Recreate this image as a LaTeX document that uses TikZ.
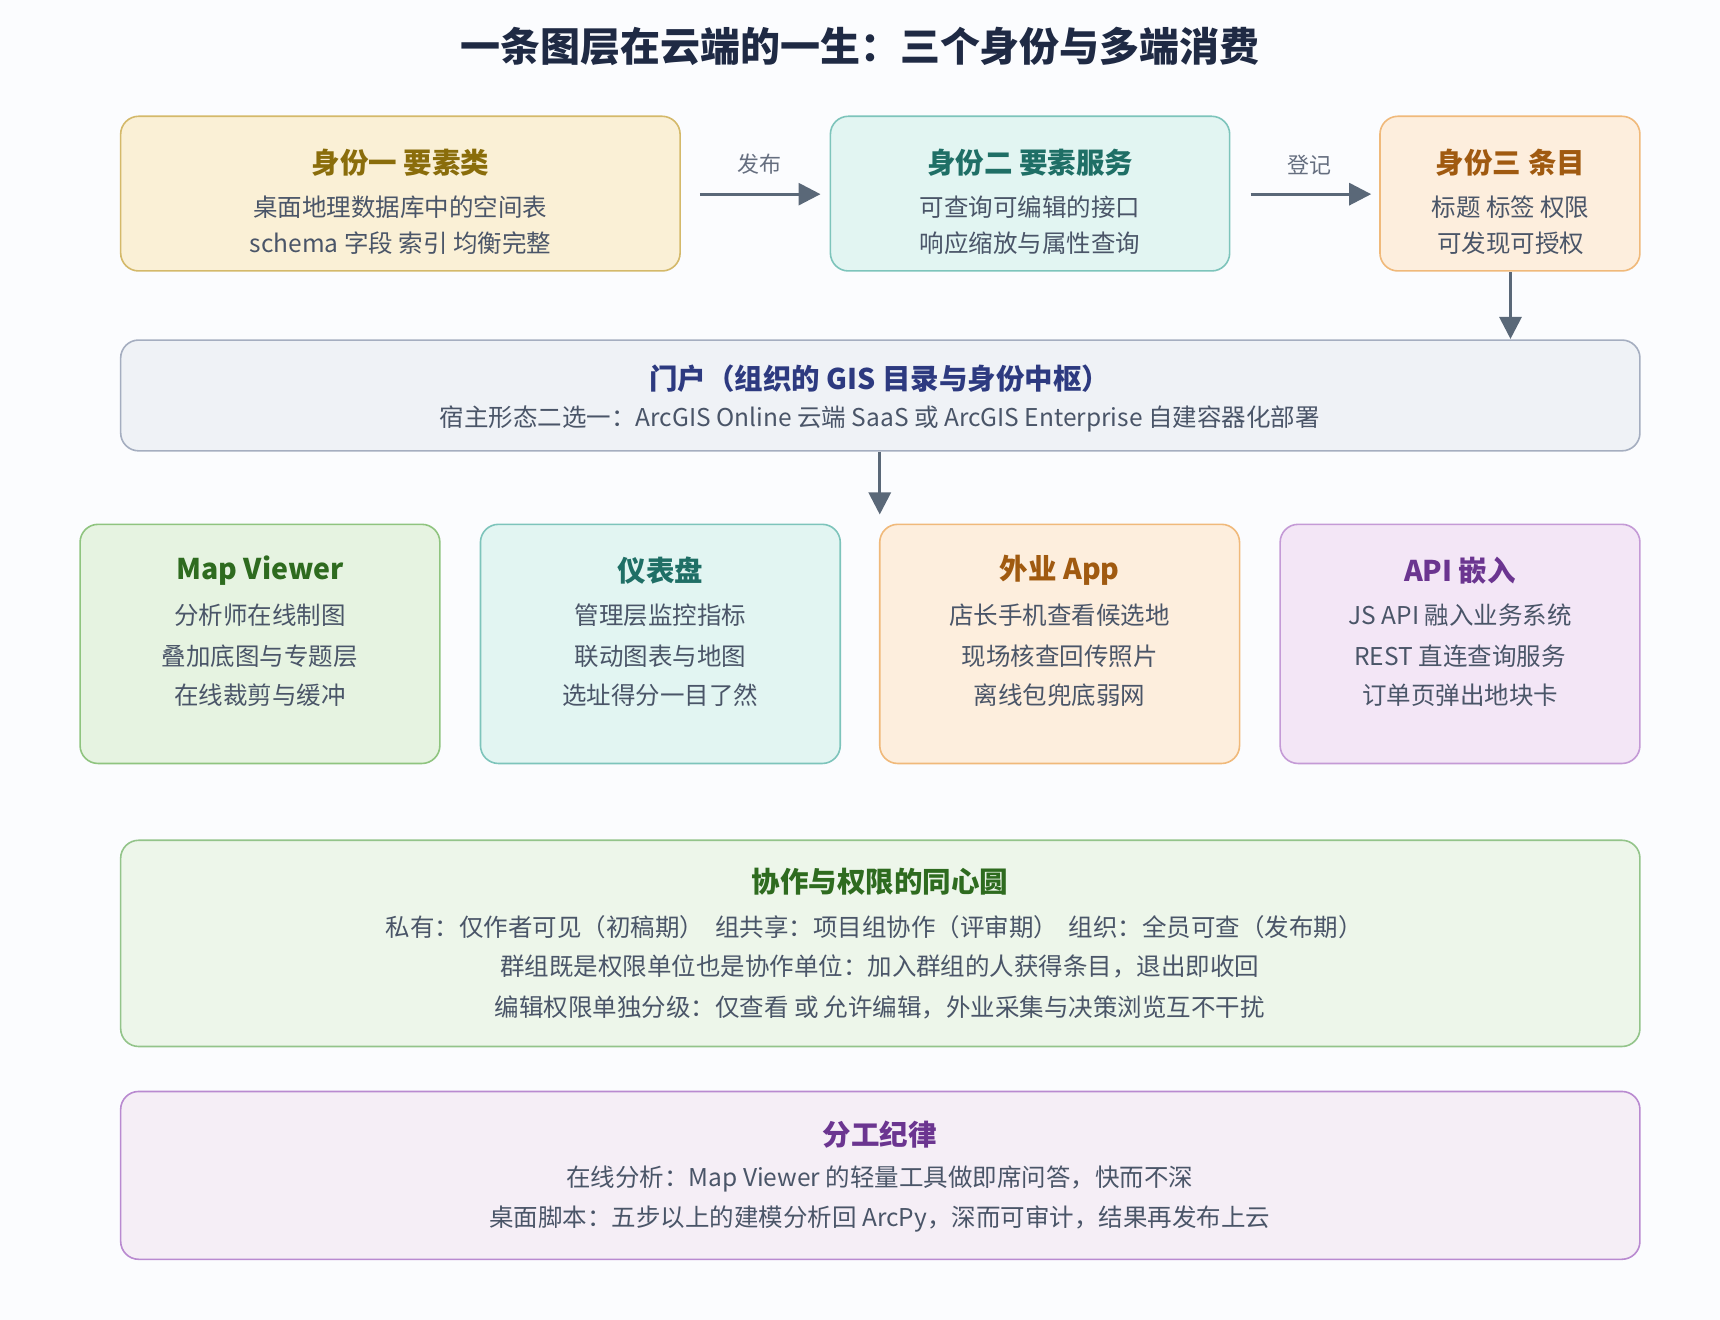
\documentclass[tikz,border=0pt]{standalone}
\usepackage{fontspec}
\setmainfont{Noto Sans CJK SC}
\usetikzlibrary{arrows.meta}
\definecolor{txt}{HTML}{4A5568}
\definecolor{arr}{HTML}{5A6878}
\definecolor{yf}{HTML}{FAF0D6}\definecolor{yb}{HTML}{D4B96A}\definecolor{yt}{HTML}{8A6D0B}
\definecolor{tf}{HTML}{E2F5F2}\definecolor{tb}{HTML}{7DC4BB}\definecolor{tt}{HTML}{1F6F66}
\definecolor{of}{HTML}{FDEEDD}\definecolor{ob}{HTML}{F0B97A}\definecolor{ot}{HTML}{A05A10}
\definecolor{gf}{HTML}{E6F3E1}\definecolor{gb}{HTML}{8FC47F}\definecolor{gt}{HTML}{2E6B1F}
\definecolor{pf}{HTML}{F3E6F6}\definecolor{pb}{HTML}{C49AD6}\definecolor{pt}{HTML}{6B3590}
\definecolor{sf}{HTML}{EFF2F6}\definecolor{sb}{HTML}{A5AEC0}\definecolor{st}{HTML}{2D3A80}
\definecolor{cf}{HTML}{EDF6EA}\definecolor{cb}{HTML}{93C48A}
\definecolor{lf}{HTML}{F5EEF6}\definecolor{lb}{HTML}{B98AD0}
\definecolor{bg}{HTML}{FBFCFE}
\definecolor{mt}{HTML}{1F2A44}
\begin{document}
\begin{tikzpicture}[x=1.097pt,y=-1.097pt,
  box/.style={draw,line width=1.6pt,rounded corners=18pt},
  ttl/.style={font=\fontsize{28.5}{32}\selectfont\bfseries},
  body/.style={font=\fontsize{24.5}{28}\selectfont,text=txt},
  lab/.style={font=\fontsize{22}{26}\selectfont,text=txt!85},
  arw/.style={draw=arr,line width=3pt,-{Triangle[length=22pt,width=22pt]}}]
\fill[bg] (0,0) rectangle (1568,1203);
\useasboundingbox (0,0) rectangle (1568,1203);
\node[font=\fontsize{40}{44}\selectfont\bfseries,text=mt] (title) at (784,42) {一条图层在云端的一生：三个身份与多端消费};
% row 1
\draw[box,fill=yf,draw=yb] (110,106) rectangle (620,247);
\node[ttl,text=yt] at (365,148) {身份一 要素类};
\node[body] at (365,189) {桌面地理数据库中的空间表};
\node[body] at (365,222) {schema 字段 索引 均衡完整};
\draw[box,fill=tf,draw=tb] (757,106) rectangle (1121,247);
\node[ttl,text=tt] at (939,148) {身份二 要素服务};
\node[body] at (939,189) {可查询可编辑的接口};
\node[body] at (939,222) {响应缩放与属性查询};
\draw[box,fill=of,draw=ob] (1258,106) rectangle (1495,247);
\node[ttl,text=ot] at (1377,148) {身份三 条目};
\node[body] at (1377,189) {标题 标签 权限};
\node[body] at (1377,222) {可发现可授权};
\coordinate (a1s) at (638,177); \coordinate (a1e) at (748,177);
\coordinate (a2s) at (1140,177); \coordinate (a2e) at (1250,177);
\draw[arw] (a1s) -- (a1e);
\draw[arw] (a2s) -- (a2e);
\node[lab] at (692,150) {发布};
\node[lab] at (1194,150) {登记};
\coordinate (a3s) at (1377,248); \coordinate (a3e) at (1377,309);
\draw[arw] (a3s) -- (a3e);
% portal
\draw[box,fill=sf,draw=sb] (110,310) rectangle (1495,411);
\node[ttl,text=st] at (802,345) {门户（组织的 GIS 目录与身份中枢）};
\node[body] at (802,382) {宿主形态二选一：ArcGIS Online 云端 SaaS 或 ArcGIS Enterprise 自建容器化部署};
\coordinate (a4s) at (802,412); \coordinate (a4e) at (802,469);
\draw[arw] (a4s) -- (a4e);
% row 3
\foreach \x/\f/\b/\t/\h/\la/\lb/\lc in {
 237/gf/gb/gt/Map Viewer/分析师在线制图/叠加底图与专题层/在线裁剪与缓冲,
 602/tf/tb/tt/仪表盘/管理层监控指标/联动图表与地图/选址得分一目了然,
 966/of/ob/ot/外业 App/店长手机查看候选地/现场核查回传照片/离线包兜底弱网,
 1331/pf/pb/pt/API 嵌入/JS API 融入业务系统/REST 直连查询服务/订单页弹出地块卡}{
 \draw[box,fill=\f,draw=\b] (\x-164,478) rectangle (\x+164,696);
 \node[ttl,text=\t] at (\x,520) {\h};
 \node[body] at (\x,561) {\la};
 \node[body] at (\x,598) {\lb};
 \node[body] at (\x,634) {\lc};
}
% collab
\draw[box,fill=cf,draw=cb] (110,766) rectangle (1495,954);
\node[ttl,text=gt] at (802,804) {协作与权限的同心圆};
\node[body] at (797,845) {私有：仅作者可见（初稿期）\ \ 组共享：项目组协作（评审期）\ \ 组织：全员可查（发布期）};
\node[body] at (802,881) {群组既是权限单位也是协作单位：加入群组的人获得条目，退出即收回};
\node[body] at (802,918) {编辑权限单独分级：仅查看 或 允许编辑，外业采集与决策浏览互不干扰};
% last
\draw[box,fill=lf,draw=lb] (110,995) rectangle (1495,1148);
\node[ttl,text=pt] at (802,1034) {分工纪律};
\node[body] at (802,1075) {在线分析：Map Viewer 的轻量工具做即席问答，快而不深};
\node[body] at (802,1111) {桌面脚本：五步以上的建模分析回 ArcPy，深而可审计，结果再发布上云};
\end{tikzpicture}
\end{document}
